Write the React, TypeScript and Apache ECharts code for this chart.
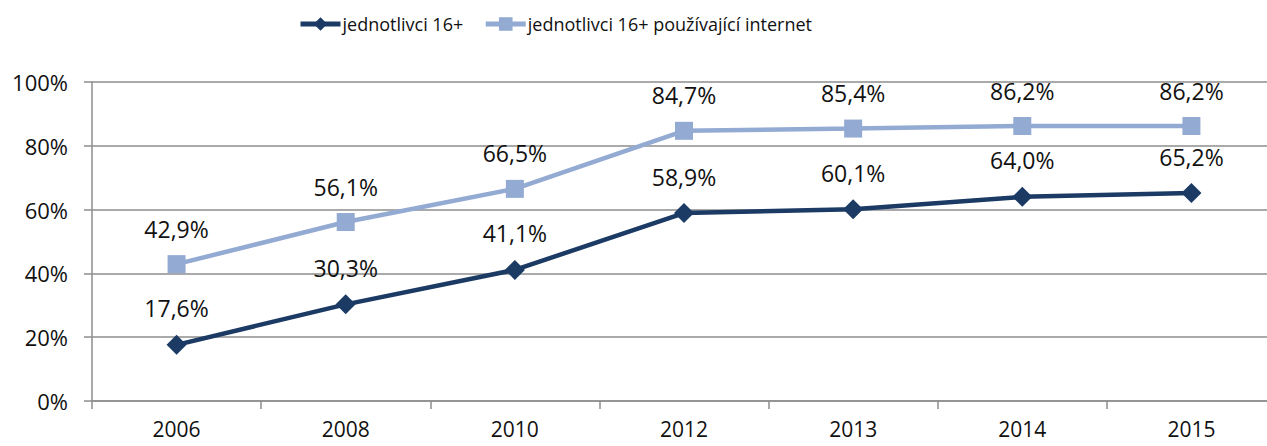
import React, { useEffect, useRef } from "react";
import * as echarts from "echarts";

const categories = ["2006", "2008", "2010", "2012", "2013", "2014", "2015"];
const seriesNames = ["jednotlivci 16+", "jednotlivci 16+ používající internet"];
const individuals = [17.6, 30.3, 41.1, 58.9, 60.1, 64.0, 65.2];
const internetUsers = [42.9, 56.1, 66.5, 84.7, 85.4, 86.2, 86.2];
const yTicks = { min: 0, max: 100, interval: 20 };

const DARK = "#1B3A64";
const LIGHT = "#93AAD3";
const GRID = "#8E8E8E";
const FONT = "'Open Sans', sans-serif";

const fmt = (v: number) => v.toFixed(1).replace(".", ",") + "%";

export default function App() {
  const ref = useRef<HTMLDivElement>(null);
  useEffect(() => {
    if (!ref.current) return;
    const chart = echarts.init(ref.current, null, { renderer: "svg" });
    const label = {
      show: true,
      position: "top",
      distance: 15,
      fontFamily: FONT,
      fontSize: 23,
      color: "#111",
      formatter: (p: any) => fmt(p.value),
    };
    chart.setOption({
      animation: false,
      backgroundColor: "#fff",
      legend: {
        top: 10,
        left: 293,
        itemWidth: 40,
        itemHeight: 17,
        itemGap: 20,
        lineStyle: { width: 5 },
        textStyle: {
          fontFamily: FONT,
          fontSize: 18,
          color: "#111",
          padding: [0, 0, 0, -3],
        },
        data: seriesNames,
      },
      grid: {
        left: 92,
        right: -9,
        top: 82,
        bottom: 45,
        containLabel: false,
        outerBoundsMode: "none",
      },
      xAxis: {
        type: "category",
        data: categories,
        boundaryGap: true,
        axisLine: { show: true, lineStyle: { color: GRID, width: 1.5 } },
        axisTick: { show: true, length: 8, lineStyle: { color: GRID, width: 1.5 } },
        axisLabel: {
          fontFamily: FONT,
          fontSize: 21,
          lineHeight: 20,
          color: "#111",
          margin: 18,
        },
        splitLine: { show: false },
      },
      yAxis: {
        type: "value",
        min: yTicks.min,
        max: yTicks.max,
        interval: yTicks.interval,
        axisLine: { show: true, lineStyle: { color: GRID, width: 1.5 } },
        axisTick: { show: true, length: 8, lineStyle: { color: GRID, width: 1.5 } },
        axisLabel: {
          fontFamily: FONT,
          fontSize: 22,
          color: "#111",
          margin: 24,
          formatter: (v: number) => v + "%",
        },
        splitLine: { show: true, lineStyle: { color: GRID, width: 1.5 } },
      },
      series: [
        {
          name: seriesNames[0],
          type: "line",
          data: individuals,
          symbol: "diamond",
          symbolSize: 20,
          itemStyle: { color: DARK },
          lineStyle: { color: DARK, width: 4.5 },
          label,
          emphasis: { disabled: true },
          z: 3,
        },
        {
          name: seriesNames[1],
          type: "line",
          data: internetUsers,
          symbol: "rect",
          symbolSize: 18,
          itemStyle: { color: LIGHT },
          lineStyle: { color: LIGHT, width: 4.5 },
          label,
          emphasis: { disabled: true },
          z: 2,
        },
      ],
    });
    return () => chart.dispose();
  }, []);
  return (
    <div
      ref={ref}
      style={{ position: "fixed", left: 0, top: 0, width: 1267, height: 446 }}
    />
  );
}
